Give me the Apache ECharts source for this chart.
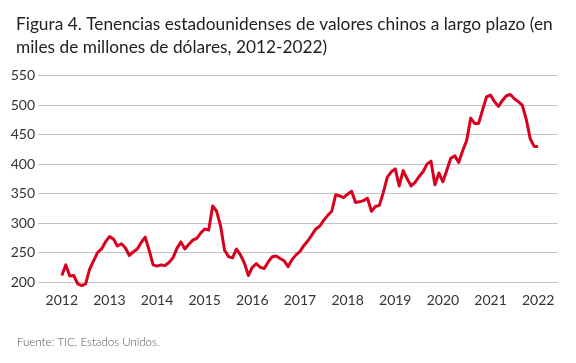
<!DOCTYPE html>
<html>
<head>
<meta charset="utf-8">
<script src="https://cdn.jsdelivr.net/npm/echarts@6/dist/echarts.min.js"></script>
<style>
  html, body { margin: 0; padding: 0; background: #fff; }
  #chart { width: 576px; height: 363px; }
</style>
</head>
<body>
<div id="chart"></div>
<script>
// monthly holdings, Jan 2012 .. Jan 2022 (miles de millones de USD)
const years = ['2012', '2013', '2014', '2015', '2016', '2017', '2018', '2019', '2020', '2021', '2022'];
const v2012 = [211, 229, 210, 211, 197, 194, 197, 222, 236, 250, 256, 268];
const v2013 = [277, 273, 261, 265, 258, 245, 251, 256, 267, 276, 254, 229];
const v2014 = [227, 229, 228, 233, 241, 257, 268, 256, 264, 271, 274, 283];
const v2015 = [290, 288, 329, 320, 295, 254, 243, 241, 256, 246, 232, 211];
const v2016 = [225, 231, 225, 223, 234, 243, 244, 240, 236, 226, 238, 246];
const v2017 = [252, 262, 270, 280, 290, 295, 305, 313, 320, 348, 346, 343];
const v2018 = [349, 354, 335, 336, 338, 342, 320, 328, 330, 352, 378, 387];
const v2019 = [392, 363, 389, 375, 363, 369, 379, 387, 400, 405, 365, 385];
const v2020 = [370, 390, 410, 414, 403, 423, 440, 478, 469, 469, 492, 514];
const v2021 = [517, 506, 498, 508, 516, 518, 511, 506, 500, 476, 443, 430];
const v2022 = [430];
const yTicks = [200, 250, 300, 350, 400, 450, 500, 550];

const values = [].concat(v2012, v2013, v2014, v2015, v2016, v2017, v2018, v2019, v2020, v2021, v2022);

// month categories from Jul 2011 to Jun 2022 (axis extends past the data)
const months = [];
for (let y = 2011; y <= 2022; y++) {
  for (let m = 1; m <= 12; m++) {
    if (y === 2011 && m < 7) continue;
    if (y === 2022 && m > 6) continue;
    months.push(y + '-' + String(m).padStart(2, '0'));
  }
}
const firstIdx = months.indexOf('2012-01');
const seriesData = months.map((m, i) => {
  const k = i - firstIdx;
  return (k >= 0 && k < values.length) ? values[k] : null;
});

const font = 'Lato, "Open Sans", sans-serif';
const chart = echarts.init(document.getElementById('chart'));

chart.setOption({
  animation: false,
  title: [
    {
      text: 'Figura 4. Tenencias estadounidenses de valores chinos a largo plazo (en\nmiles de millones de dólares, 2012-2022)',
      left: 11,
      top: 8,
      textStyle: {
        fontFamily: font,
        fontWeight: 'normal',
        fontSize: 17.3,
        lineHeight: 23,
        color: '#222'
      }
    },
    {
      text: 'Fuente: TIC, Estados Unidos.',
      left: 12,
      top: 331,
      textStyle: {
        fontFamily: font,
        fontWeight: 300,
        fontSize: 11.5,
        color: '#555'
      }
    }
  ],
  grid: {
    left: 38,
    right: 18,
    top: 75.7,
    bottom: 81,
    containLabel: false
  },
  xAxis: {
    type: 'category',
    data: months,
    boundaryGap: false,
    axisLine: {show: false},
    axisTick: {show: false},
    axisLabel: {
      interval: (idx, val) => val.endsWith('-01') && years.includes(val.slice(0, 4)),
      formatter: val => val.slice(0, 4),
      margin: 11,
      fontFamily: font,
      fontSize: 14,
      color: '#333'
    },
    splitLine: {show: false}
  },
  yAxis: {
    type: 'value',
    min: yTicks[0],
    max: yTicks[yTicks.length - 1],
    interval: 50,
    axisLine: {show: false},
    axisTick: {show: false},
    axisLabel: {
      margin: 3,
      fontFamily: font,
      fontSize: 14,
      color: '#333'
    },
    splitLine: {
      lineStyle: {color: '#c4c4c4', width: 1.2}
    }
  },
  series: [
    {
      type: 'line',
      data: seriesData,
      showSymbol: false,
      symbol: 'none',
      clip: false,
      lineStyle: {color: '#d7001d', width: 3, join: 'round'},
      z: 3
    }
  ]
});
</script>
</body>
</html>
